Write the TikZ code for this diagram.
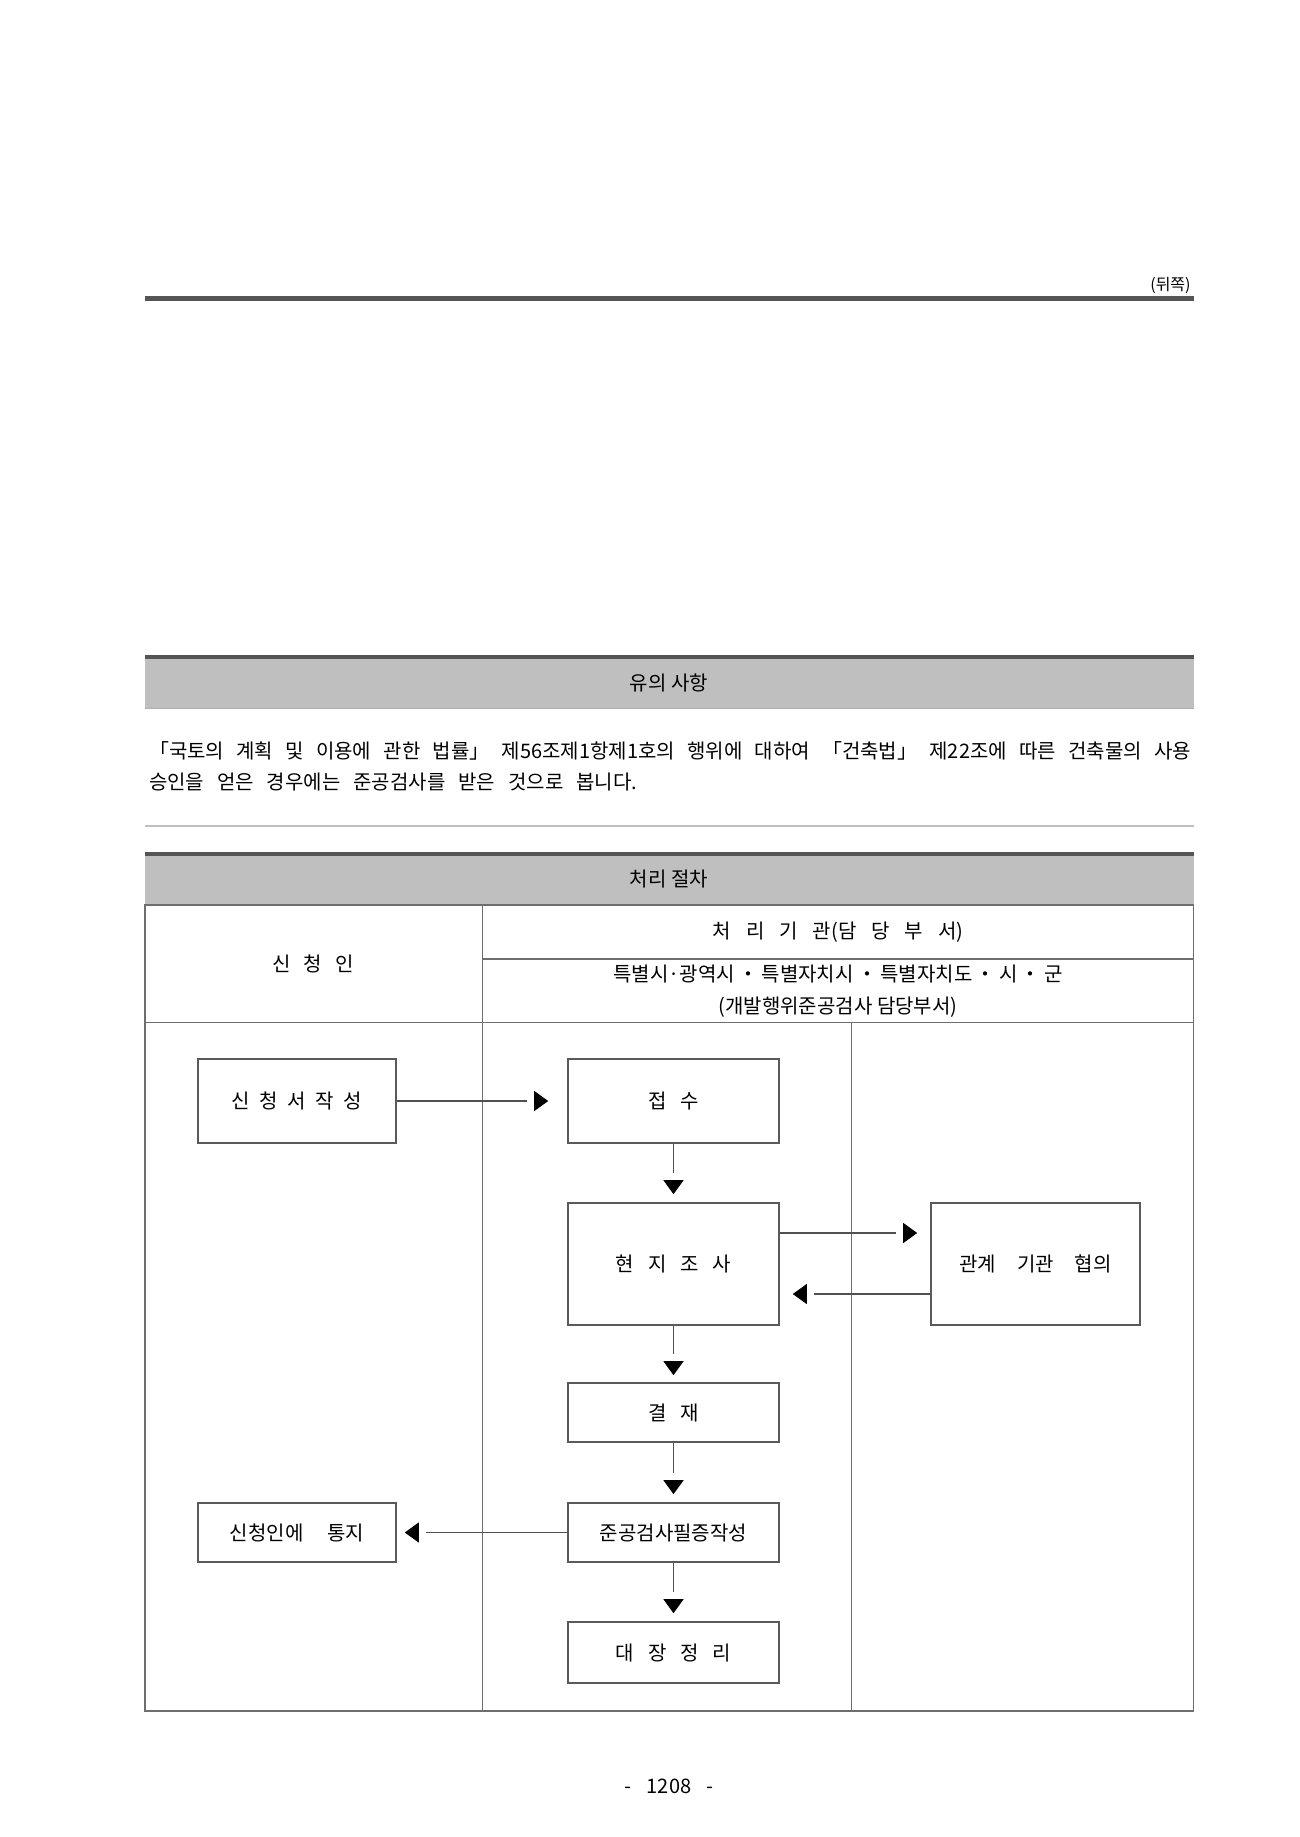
\documentclass[tikz,border=0pt]{standalone}
\usepackage{fontspec}
\setmainfont{Noto Sans CJK KR}
\usepackage{tikz}
\usetikzlibrary{
    calc,
    positioning,
    arrows.meta,
    decorations.markings
}

\begin{document}
\begin{tikzpicture}[
    x=0.5pt, y=-0.5pt,
    font=\fontsize{10}{12}\selectfont,
    box/.style={
    	draw=my-line, line width=0.8pt,
    	minimum width=105.5pt, minimum height=29.5pt,
    	inner sep=0pt, align=center
    }, pil/.style={
    	draw=my-arrow, line width=0.55pt,
    	shorten >=#1+10.8pt,
    	postaction={decorate, decoration={markings,
    		mark=at position -#1 with {\arrow[black]{Triangle[length=7pt,width=10pt]}}}}
    }, band/.style={
    	fill=my-band
    }, grid/.style={
    	draw=my-grid, line width=0.75pt
    }, wsp/.style={
    	execute at begin node={\spaceskip=#1\relax}
    }, wsp/.default=0.7em]
    \definecolor{my-rule}{RGB}{85, 85, 85}
    \definecolor{my-band}{RGB}{191, 191, 191}
    \definecolor{my-light}{RGB}{175, 175, 175}
    \definecolor{my-grid}{RGB}{110, 110, 110}
    \definecolor{my-line}{RGB}{90, 90, 90}
    \definecolor{my-arrow}{RGB}{80, 80, 80}

    \fill[white] (0,0) rectangle (1300,1837);

    %%% page head
    \node[anchor=east, inner sep=0pt, font=\fontsize{8}{10}\selectfont] (side) at (1191,285) {(뒤쪽)};
    \draw[my-rule, line width=2.2pt] (145,298.6) -- (1193.5,298.6);

    %%% notes
    \fill[band] (145,657) rectangle (1193.5,708.5);
    \draw[my-rule, line width=2pt] (145,657) -- (1193.5,657);
    \draw[my-light, line width=0.6pt] (145,708.5) -- (1193.5,708.5);
    \node (note-title) at (669,682.5) {유의 사항};
    \node[inner sep=0pt, text width=521pt, align=justify,
    	font=\fontsize{10}{15.5}\selectfont] (note-text) at (670,766.5)
    	{「국토의 계획 및 이용에 관한 법률」 제56조제1항제1호의 행위에 대하여 「건축법」 제22조에 따른 건축물의 사용\linebreak
    	{\spaceskip=0.65em\relax 승인을 얻은 경우에는 준공검사를 받은 것으로 봅니다.}};
    \draw[my-light!80, line width=0.7pt] (145,826) -- (1193.5,826);

    %%% procedure table
    \fill[band] (145,854) rectangle (1193.5,905);
    \draw[my-rule, line width=2pt] (145,854) -- (1193.5,854);
    \node (proc-title) at (669,879.5) {처리 절차};

    \draw[grid] (145,905) rectangle (1193.5,1711);
    \draw[grid] (482.5,905) -- (482.5,1711);
    \draw[grid] (482.5,959) -- (1193.5,959);
    \draw[grid] (145,1022.5) -- (1193.5,1022.5);
    \draw[grid] (851.5,1022.5) -- (851.5,1711);

    \node[wsp=0.65em] (head-app) at (313,964) {신 청 인};
    \node[wsp=0.75em] (head-org) at (838,932) {처 리 기 관(담 당 부 서)};
    \node (head-city) at (838,974) {특별시·광역시\,・\,특별자치시\,・\,특별자치도\,・\,시\,・\,군};
    \node (head-dept) at (838,1007) {(개발행위준공검사 담당부서)};

    %%% steps
    \node[box, wsp=0.48em, minimum width=99pt, minimum height=42pt] (form) at (297,1101) {신 청 서 작 성};
    \node[box, wsp, minimum height=42pt] (recv) at (673.5,1101) {접 수};
    \node[box, wsp, minimum height=61pt] (site) at (673.5,1264) {현 지 조 사};
    \node[box, wsp=1.05em, minimum width=104.5pt, minimum height=61pt] (coop) at (1035.5,1264) {관계 기관 협의};
    \node[box, wsp] (appr) at (673.5,1412.5) {결 재};
    \node[box] (cert) at (673.5,1532.5) {준공검사필증작성};
    \node[box, wsp=1.2em, minimum width=99pt] (noti) at (297,1532.5) {신청인에 통지};
    \node[box, wsp, minimum height=30.5pt] (ledg) at (673.5,1652.5) {대 장 정 리};

    %%% EDGES
    \draw[pil=9.5pt] (form) -- (recv);
    \draw[pil=4pt] (recv) -- (site);
    \draw[pil=6.5pt] ([yshift=15.5pt]site.east) -- ([yshift=15.5pt]coop.west);
    \draw[pil=6.5pt] ([yshift=-15pt]coop.west) -- ([yshift=-15pt]site.east);
    \draw[pil=3.5pt] (site) -- (appr);
    \draw[pil=4pt] (appr) -- (cert);
    \draw[pil=4pt] (cert) -- (noti);
    \draw[pil=4pt] (cert) -- (ledg);

    %%% page number
    \node[wsp=0.75em] (page-no) at (669,1786) {- 1208 -};

\end{tikzpicture}
\end{document}
